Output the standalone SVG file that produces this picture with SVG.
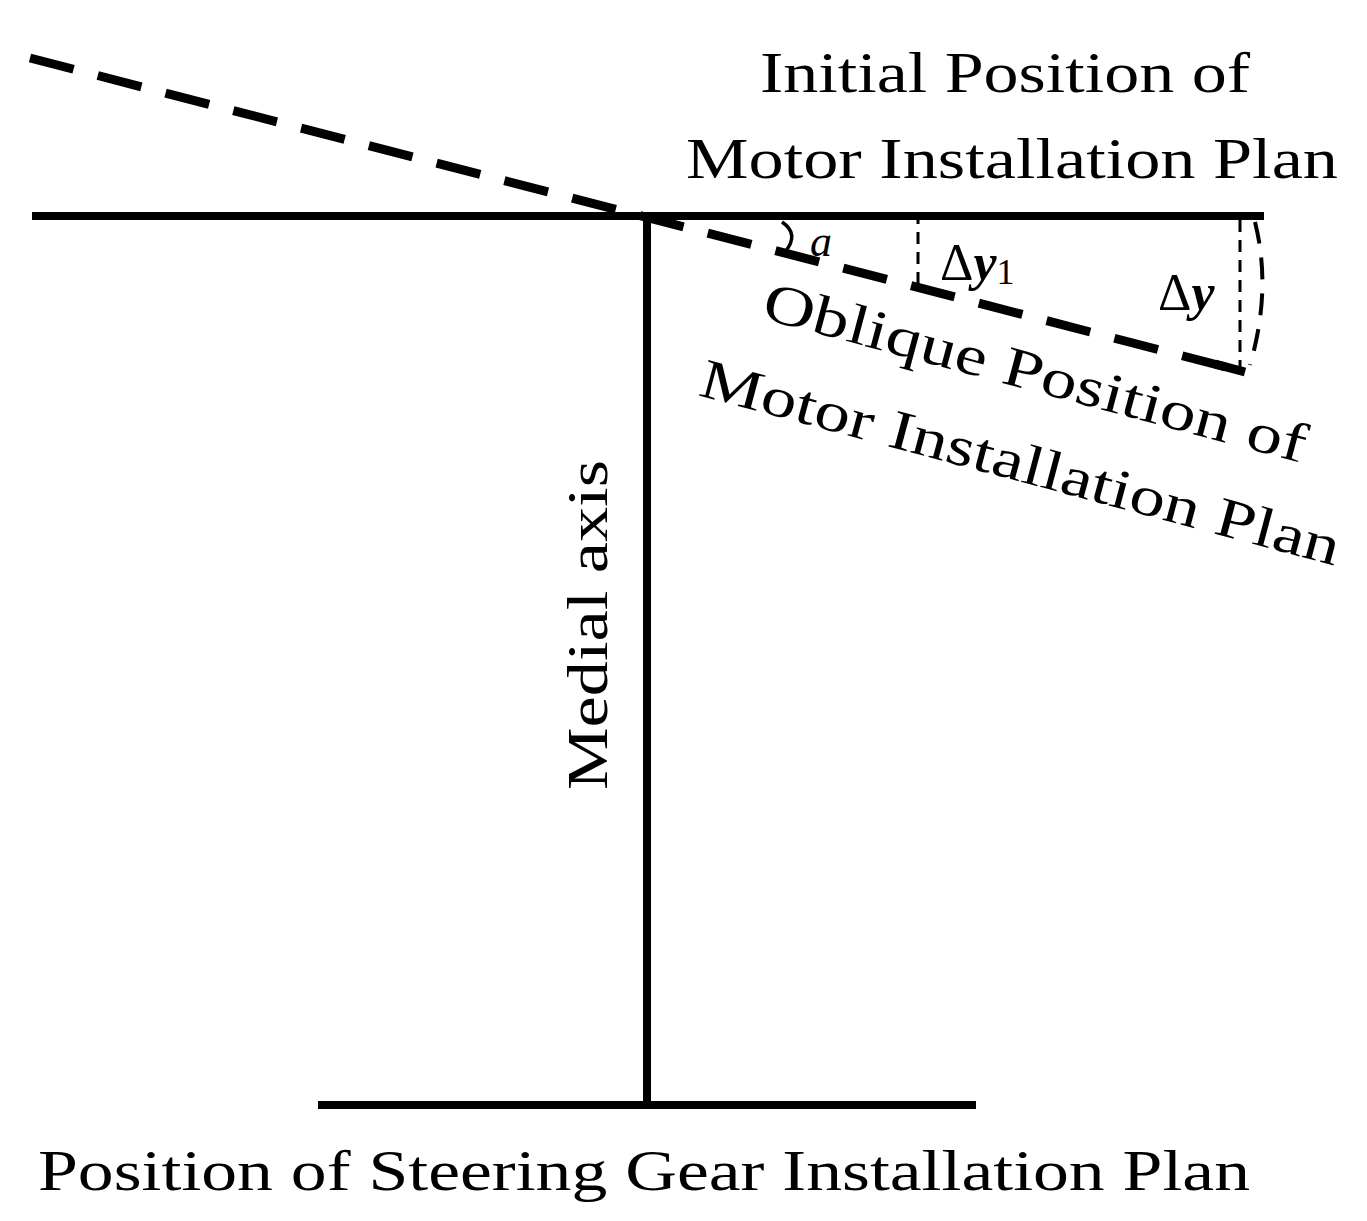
<svg xmlns="http://www.w3.org/2000/svg" width="1367" height="1221" viewBox="0 0 1367 1221">
<style>
.t{font-family:"Liberation Serif",serif;font-size:56px;fill:#000}
.s{stroke:#000;fill:none}
</style>
<rect width="1367" height="1221" fill="#fff"/>
<g id="connectors">
<line class="s" x1="32" y1="216" x2="1264" y2="216" stroke-width="8"/>
<line class="s" x1="647" y1="216" x2="647" y2="1105" stroke-width="8"/>
<line class="s" x1="318" y1="1105" x2="976" y2="1105" stroke-width="8"/>
<line class="s" x1="30" y1="58" x2="1245" y2="372" stroke-width="9" stroke-dasharray="45,25"/>
<line class="s" x1="1245" y1="372" x2="1215" y2="364" stroke-width="9"/>
<line class="s" x1="918" y1="212" x2="918" y2="292" stroke-width="3" stroke-dasharray="12,8"/>
<line class="s" x1="1240" y1="220" x2="1240" y2="370" stroke-width="3" stroke-dasharray="12,8"/>
<path class="s" d="M1255,222 Q1272,290 1250,365" stroke-width="4" stroke-dasharray="22,14"/>
<path class="s" d="M782,222 Q800,234 785,252" stroke-width="3.5"/>
</g>
<g id="labels">
<text class="t" x="760" y="92" textLength="490" lengthAdjust="spacingAndGlyphs">Initial Position of</text>
<text class="t" x="686" y="178" textLength="652" lengthAdjust="spacingAndGlyphs">Motor Installation Plan</text>
<text x="810" y="256" font-family="Liberation Serif,serif" font-style="italic" font-size="44">a</text>
<text x="940" y="280" font-family="Liberation Serif,serif" font-size="52">Δ<tspan font-style="italic" font-weight="bold">y</tspan><tspan font-size="36" dy="4">1</tspan></text>
<text x="1158" y="310" font-family="Liberation Serif,serif" font-size="52">Δ<tspan font-style="italic" font-weight="bold">y</tspan></text>
<text class="t" transform="translate(760,318) rotate(15)" textLength="560" lengthAdjust="spacingAndGlyphs">Oblique Position of</text>
<text class="t" transform="translate(697,395) rotate(15)" textLength="660" lengthAdjust="spacingAndGlyphs">Motor Installation Plan</text>
<text class="t" transform="translate(607,790) rotate(-90)" textLength="330" lengthAdjust="spacingAndGlyphs">Medial axis</text>
<text class="t" x="38" y="1190" textLength="1212" lengthAdjust="spacingAndGlyphs">Position of  Steering Gear Installation Plan</text>
</g>
</svg>
